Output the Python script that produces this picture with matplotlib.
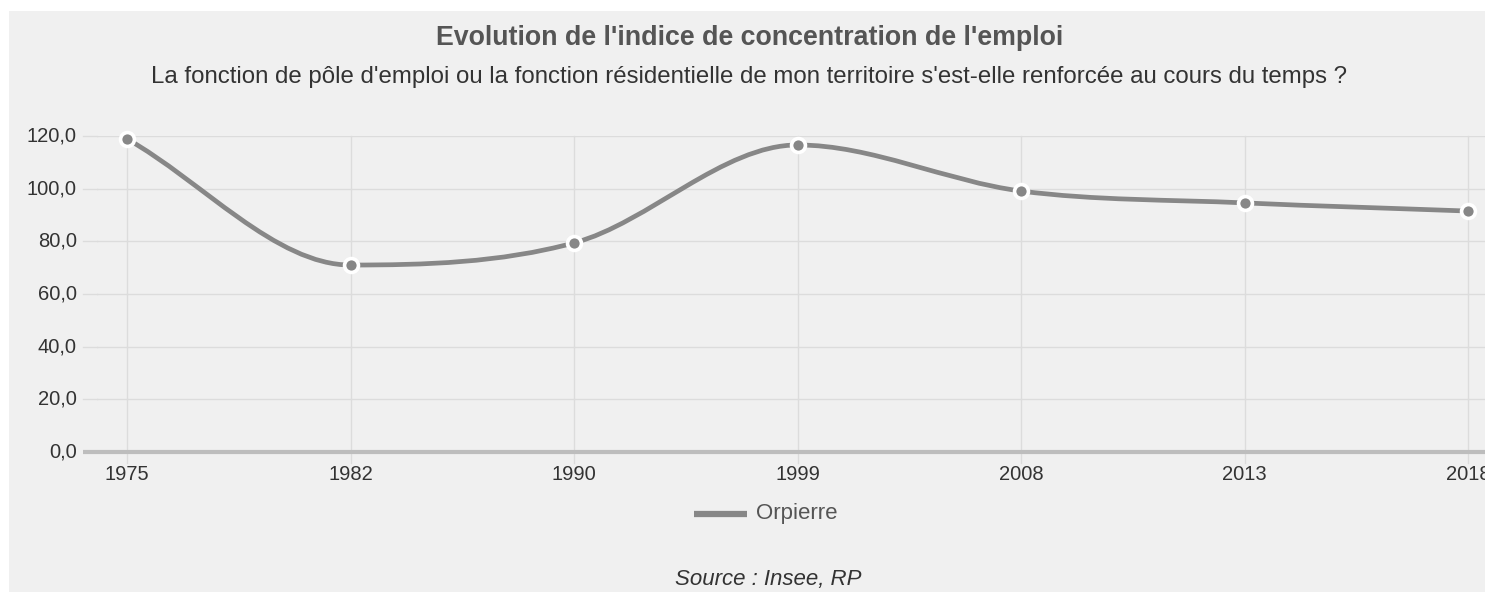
import numpy as np
import matplotlib.pyplot as plt
from matplotlib.path import Path
from matplotlib.patches import PathPatch, Rectangle
from matplotlib.lines import Line2D

plt.rcParams['font.family'] = ['Liberation Sans', 'DejaVu Sans']

# =========================
# DATA
# =========================
years = ["1975", "1982", "1990", "1999", "2008", "2013", "2018"]
values = [118.9, 71.0, 79.4, 116.6, 99.1, 94.6, 91.5]
y_ticks = [0, 20, 40, 60, 80, 100, 120]
series_name = "Orpierre"

LINE_COLOR = "#878787"
GRID_COLOR = "#dcdcdc"
BG_COLOR = "#f0f0f0"

W, H = 1485, 592
fig = plt.figure(figsize=(W / 100, H / 100), dpi=100)
fig.patch.set_facecolor("white")
fig.patches.append(Rectangle((9 / W, 0), 1 - 9 / W, 1 - 11 / H,
                             transform=fig.transFigure, facecolor=BG_COLOR,
                             edgecolor="none", zorder=-10))

# plot area in pixels: x from 97 to 1485, y from 136 (120) to 452 (0)
left, right, top, bottom = 97, 1485, 136, 452
ax = fig.add_axes([left / W, 1 - bottom / H, (right - left) / W, (bottom - top) / H])
ax.set_facecolor("none")

x = np.arange(len(years))
px_per_cat = (1468 - 127) / 6
x_min = -(127 - left) / px_per_cat
x_max = x_min + (right - left) / px_per_cat
ax.set_xlim(x_min, x_max)
ax.set_ylim(0, 120)

for s in ax.spines.values():
    s.set_visible(False)

# grid
for yt in y_ticks[1:]:
    ax.axhline(yt, color=GRID_COLOR, lw=1, zorder=0)
for xi in x:
    ax.plot([xi, xi], [-4.2, 120], color=GRID_COLOR, lw=1, zorder=0, clip_on=False)
ax.plot([x_min - 14 / px_per_cat, x_max], [0, 0], color="#bdbdbd", lw=3,
        zorder=1, clip_on=False, solid_capstyle="butt")
for yt in y_ticks[1:]:
    ax.plot([x_min - 14 / px_per_cat, x_min], [yt, yt], color=GRID_COLOR, lw=1,
            clip_on=False)

ax.set_xticks([])
ax.set_yticks([])

# tick labels (last year label is cut by the right edge, as in the original)
for yt in y_ticks:
    ax.text(x_min - 20 / px_per_cat, yt, f"{yt:.1f}".replace(".", ","),
            ha="right", va="center", fontsize=14.5, color="#333333")
for xi, lab in zip(x, years):
    ax.text(xi, -8.6, lab, ha="center", va="center", fontsize=14.5,
            color="#333333", clip_on=False)

# monotone cubic curve (Chart.js 'monotone' mode)
xs = x.astype(float)
ys = np.array(values, dtype=float)
n = len(xs)
delta = np.diff(ys) / np.diff(xs)
m = np.zeros(n)
m[0] = delta[0]
m[-1] = delta[-1]
for i in range(1, n - 1):
    m[i] = 0 if delta[i - 1] * delta[i] <= 0 else (delta[i - 1] + delta[i]) / 2
for i in range(n - 1):
    if delta[i] == 0:
        m[i] = m[i + 1] = 0
        continue
    a = m[i] / delta[i]
    b = m[i + 1] / delta[i]
    sq = a * a + b * b
    if sq > 9:
        t = 3 / np.sqrt(sq)
        m[i] = a * t * delta[i]
        m[i + 1] = b * t * delta[i]

verts = [(xs[0], ys[0])]
codes = [Path.MOVETO]
for i in range(n - 1):
    dx = (xs[i + 1] - xs[i]) / 3
    verts += [(xs[i] + dx, ys[i] + m[i] * dx),
              (xs[i + 1] - dx, ys[i + 1] - m[i + 1] * dx),
              (xs[i + 1], ys[i + 1])]
    codes += [Path.CURVE4] * 3
ax.add_patch(PathPatch(Path(verts, codes), facecolor="none", edgecolor=LINE_COLOR,
                       lw=3.4, zorder=3, clip_on=False))
ax.plot(xs, ys, "o", ms=10, markerfacecolor=LINE_COLOR, markeredgecolor="white",
        markeredgewidth=2.6, zorder=4, clip_on=False)

# titles
fig.text(750 / W, 1 - 38 / H, "Evolution de l'indice de concentration de l'emploi",
         ha="center", va="center", fontsize=19.3, fontweight="bold", color="#555555")
fig.text(749 / W, 1 - 77 / H,
         "La fonction de pôle d'emploi ou la fonction résidentielle de mon territoire "
         "s'est-elle renforcée au cours du temps ?",
         ha="center", va="center", fontsize=17.3, color="#333333")

# legend
fig.add_artist(Line2D([694 / W, 747 / W], [1 - 514 / H, 1 - 514 / H], color=LINE_COLOR,
                      lw=4.5, transform=fig.transFigure, solid_capstyle="butt"))
fig.text(756 / W, 1 - 514 / H, series_name, ha="left", va="center", fontsize=16,
         color="#555555")

fig.text(768 / W, 1 - 579 / H, "Source : Insee, RP", ha="center", va="center",
         fontsize=16, style="italic", color="#333333")

fig.savefig("out.png", dpi=100, facecolor=fig.get_facecolor())
